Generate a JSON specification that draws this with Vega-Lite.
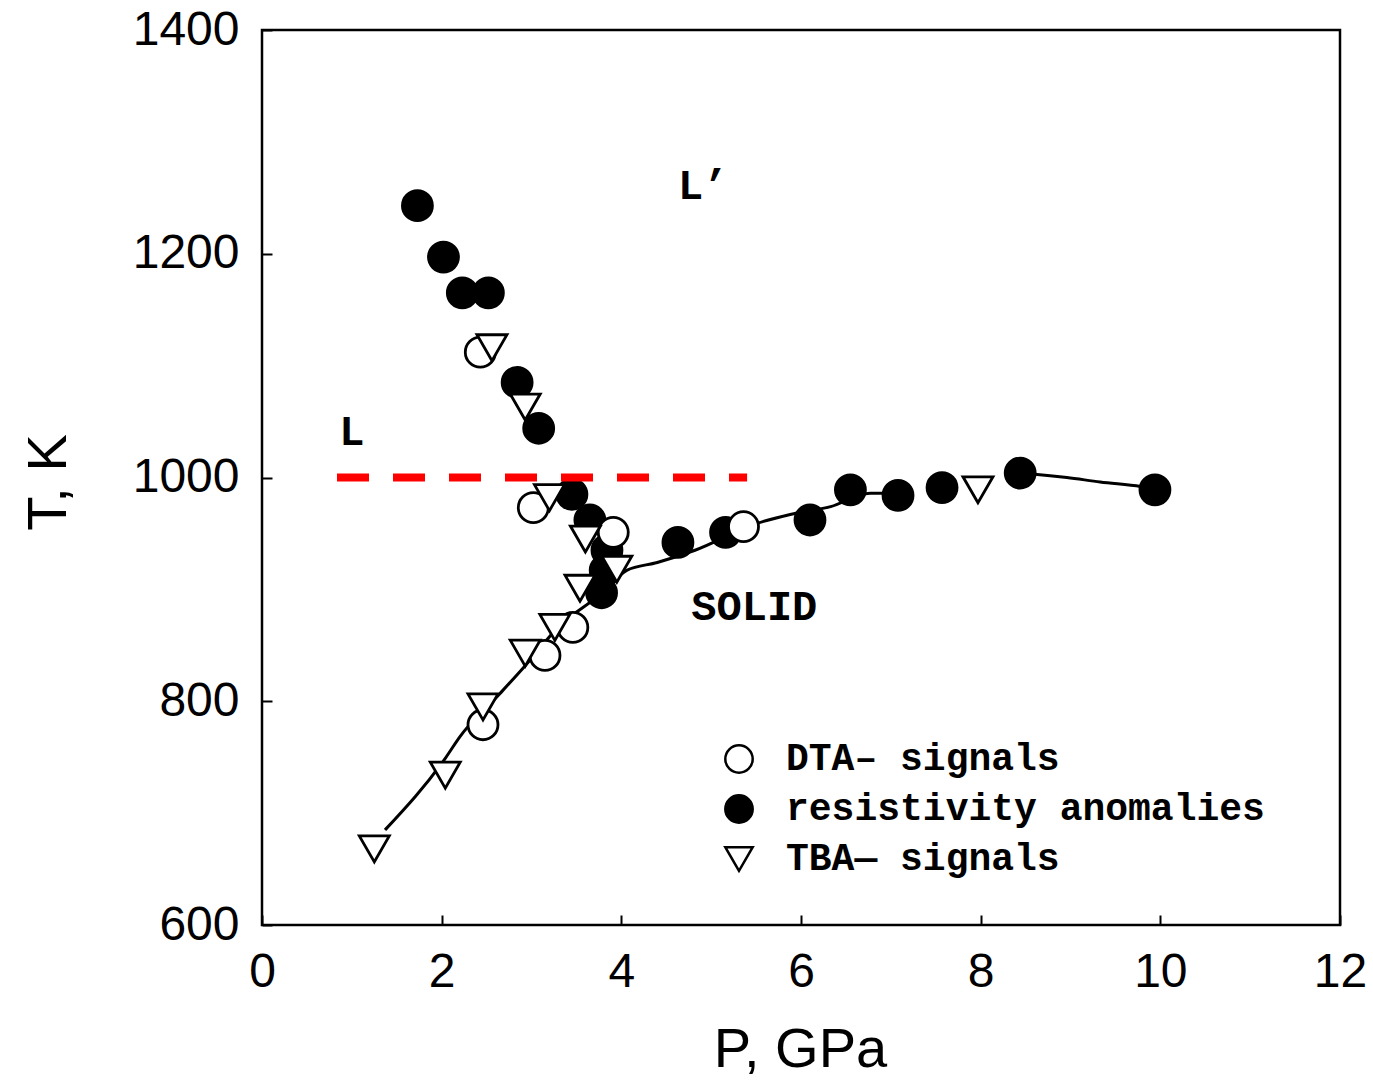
{
  "$schema": "https://vega.github.io/schema/vega-lite/v6.json",
  "width": 1078,
  "height": 895,
  "autosize": {"type": "none"},
  "padding": {"left": 262, "top": 30, "right": 33, "bottom": 157},
  "background": "white",
  "config": {
    "view": {"stroke": "black", "strokeWidth": 2.5},
    "axis": {
      "grid": false, "domain": false, "ticks": true, "tickSize": -10, "tickColor": "black", "tickWidth": 2,
      "labelFont": "Liberation Sans", "labelFontSize": 48, "labelColor": "black", "labelFlush": false, "labelOverlap": false, "format": "d",
      "titleFont": "Liberation Sans", "titleFontSize": 56, "titleFontWeight": "normal", "titleColor": "black"
    }
  },
  "datasets": {
    "curve": [
      {"seg": "A", "P": 1.37, "T": 685}, {"seg": "A", "P": 2.04, "T": 749}, {"seg": "A", "P": 2.2, "T": 768},
      {"seg": "A", "P": 2.65, "T": 807}, {"seg": "A", "P": 2.91, "T": 830}, {"seg": "A", "P": 3.32, "T": 868},
      {"seg": "A", "P": 3.76, "T": 895}, {"seg": "A", "P": 4.06, "T": 917}, {"seg": "A", "P": 4.4, "T": 924},
      {"seg": "A", "P": 4.82, "T": 935}, {"seg": "A", "P": 5.51, "T": 959}, {"seg": "A", "P": 5.88, "T": 967},
      {"seg": "A", "P": 6.33, "T": 974}, {"seg": "A", "P": 6.77, "T": 986}, {"seg": "A", "P": 7.08, "T": 986},
      {"seg": "B", "P": 8.44, "T": 1004}, {"seg": "B", "P": 8.6, "T": 1003}, {"seg": "B", "P": 8.96, "T": 1000},
      {"seg": "B", "P": 9.33, "T": 996}, {"seg": "B", "P": 9.78, "T": 992}, {"seg": "B", "P": 9.94, "T": 990}
    ],
    "points": [
      {"series": "resistivity anomalies", "P": 1.73, "T": 1243},
      {"series": "resistivity anomalies", "P": 2.02, "T": 1197},
      {"series": "resistivity anomalies", "P": 2.23, "T": 1165},
      {"series": "resistivity anomalies", "P": 2.52, "T": 1165},
      {"series": "resistivity anomalies", "P": 2.84, "T": 1085},
      {"series": "resistivity anomalies", "P": 3.08, "T": 1044},
      {"series": "resistivity anomalies", "P": 3.45, "T": 985},
      {"series": "resistivity anomalies", "P": 3.65, "T": 962},
      {"series": "resistivity anomalies", "P": 3.84, "T": 935},
      {"series": "resistivity anomalies", "P": 3.82, "T": 917},
      {"series": "resistivity anomalies", "P": 3.78, "T": 897},
      {"series": "resistivity anomalies", "P": 4.63, "T": 942},
      {"series": "resistivity anomalies", "P": 5.16, "T": 951},
      {"series": "resistivity anomalies", "P": 6.1, "T": 962},
      {"series": "resistivity anomalies", "P": 6.55, "T": 989},
      {"series": "resistivity anomalies", "P": 7.08, "T": 984},
      {"series": "resistivity anomalies", "P": 7.57, "T": 991},
      {"series": "resistivity anomalies", "P": 8.44, "T": 1004},
      {"series": "resistivity anomalies", "P": 9.94, "T": 989},
      {"series": "DTA– signals", "P": 2.43, "T": 1112},
      {"series": "DTA– signals", "P": 3.02, "T": 973},
      {"series": "DTA– signals", "P": 3.91, "T": 951},
      {"series": "DTA– signals", "P": 5.36, "T": 956},
      {"series": "DTA– signals", "P": 2.46, "T": 779},
      {"series": "DTA– signals", "P": 3.15, "T": 841},
      {"series": "DTA– signals", "P": 3.46, "T": 866},
      {"series": "TBA— signals", "P": 2.56, "T": 1116},
      {"series": "TBA— signals", "P": 2.93, "T": 1063},
      {"series": "TBA— signals", "P": 3.2, "T": 982},
      {"series": "TBA— signals", "P": 3.6, "T": 945},
      {"series": "TBA— signals", "P": 3.54, "T": 901},
      {"series": "TBA— signals", "P": 3.95, "T": 918},
      {"series": "TBA— signals", "P": 1.25, "T": 668},
      {"series": "TBA— signals", "P": 2.04, "T": 734},
      {"series": "TBA— signals", "P": 2.46, "T": 795},
      {"series": "TBA— signals", "P": 2.93, "T": 843},
      {"series": "TBA— signals", "P": 3.26, "T": 866},
      {"series": "TBA— signals", "P": 7.97, "T": 989}
    ],
    "dash": [{"P1": 0.835, "P2": 5.4, "T": 1000}],
    "notes": [
      {"text": "L’", "P": 4.91, "T": 1261},
      {"text": "L", "P": 1.0, "T": 1041},
      {"text": "SOLID", "P": 5.48, "T": 884}
    ]
  },
  "layer": [
    {
      "data": {"name": "curve"},
      "mark": {"type": "line", "interpolate": "monotone", "stroke": "black", "strokeWidth": 3},
      "encoding": {
        "x": {"field": "P", "type": "quantitative", "scale": {"domain": [0, 12], "nice": false},
          "axis": {"title": "P, GPa", "values": [0, 2, 4, 6, 8, 10, 12], "labelPadding": 33, "titleX": 538, "titleY": 124, "titleBaseline": "middle", "titleAlign": "center"}},
        "y": {"field": "T", "type": "quantitative", "scale": {"domain": [600, 1400], "nice": false, "zero": false},
          "axis": {"title": "T, K", "values": [600, 800, 1000, 1200, 1400], "labelPadding": 33, "titleX": -214, "titleY": 452, "titleAngle": -90, "titleBaseline": "middle", "titleAlign": "center"}},
        "detail": {"field": "seg"}
      }
    },
    {
      "data": {"name": "points"},
      "mark": {"type": "point", "strokeWidth": 2.8, "size": 900, "opacity": 1, "fillOpacity": 1, "strokeOpacity": 1},
      "encoding": {
        "x": {"field": "P", "type": "quantitative"},
        "y": {"field": "T", "type": "quantitative"},
        "shape": {"field": "series", "type": "nominal",
          "scale": {"domain": ["DTA– signals", "resistivity anomalies", "TBA— signals"], "range": ["circle", "circle", "triangle-down"]},
          "legend": {"orient": "none", "legendX": 458, "legendY": 710, "title": null, "labelFont": "Liberation Mono", "labelFontSize": 38, "labelFontWeight": "bold", "labelColor": "black", "labelLimit": 0, "symbolSize": 750, "symbolStrokeWidth": 2.5, "rowPadding": 12, "labelOffset": 28, "padding": 0}},
        "fill": {"field": "series", "type": "nominal",
          "scale": {"domain": ["DTA– signals", "resistivity anomalies", "TBA— signals"], "range": ["white", "black", "white"]},
          "legend": {"orient": "none", "legendX": 458, "legendY": 710, "title": null, "labelFont": "Liberation Mono", "labelFontSize": 38, "labelFontWeight": "bold", "labelColor": "black", "labelLimit": 0, "symbolSize": 750, "symbolStrokeWidth": 2.5, "rowPadding": 12, "labelOffset": 28, "padding": 0}},
        "stroke": {"field": "series", "type": "nominal",
          "scale": {"domain": ["DTA– signals", "resistivity anomalies", "TBA— signals"], "range": ["black", "black", "black"]},
          "legend": {"orient": "none", "legendX": 458, "legendY": 710, "title": null, "labelFont": "Liberation Mono", "labelFontSize": 38, "labelFontWeight": "bold", "labelColor": "black", "labelLimit": 0, "symbolSize": 750, "symbolStrokeWidth": 2.5, "rowPadding": 12, "labelOffset": 28, "padding": 0}}
      }
    },
    {
      "data": {"name": "dash"},
      "mark": {"type": "rule", "stroke": "#ff0000", "strokeWidth": 8, "strokeDash": [32, 24]},
      "encoding": {
        "x": {"field": "P1", "type": "quantitative"},
        "x2": {"field": "P2"},
        "y": {"field": "T", "type": "quantitative"}
      }
    },
    {
      "data": {"name": "notes"},
      "mark": {"type": "text", "font": "Liberation Mono", "fontSize": 42, "fontWeight": "bold", "color": "black", "align": "center", "baseline": "middle"},
      "encoding": {
        "x": {"field": "P", "type": "quantitative"},
        "y": {"field": "T", "type": "quantitative"},
        "text": {"field": "text"}
      }
    }
  ]
}
